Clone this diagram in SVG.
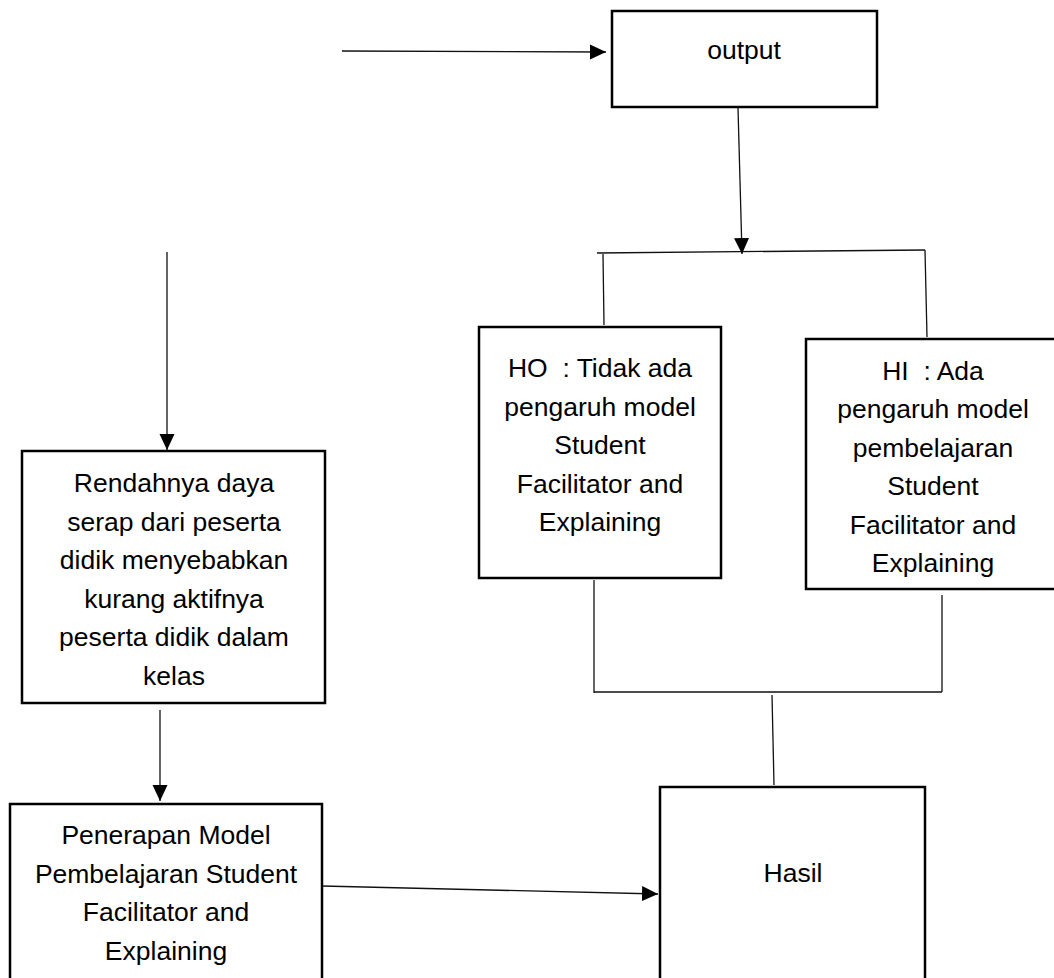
<svg xmlns="http://www.w3.org/2000/svg" width="1054" height="978" viewBox="0 0 1054 978">
<style>
.box{fill:#fff;stroke:#000;stroke-width:2.5}
.t{font-family:"Liberation Sans",Arial,sans-serif;font-size:26.5px;fill:#000;text-anchor:middle;white-space:pre}
.c{fill:none;stroke:#111;stroke-width:1.3}
</style>
<defs>
<marker id="ah" markerUnits="userSpaceOnUse" markerWidth="17" markerHeight="16" refX="16" refY="7.5" orient="auto">
<path d="M0,0 L16,7.5 L0,15 Z" fill="#000"/>
</marker>
</defs>
<rect width="1054" height="978" fill="#fff"/>
<g id="connectors">
<line class="c" x1="342" y1="51" x2="606" y2="52" marker-end="url(#ah)"/>
<line class="c" x1="738" y1="108" x2="742" y2="254" marker-end="url(#ah)"/>
<line class="c" x1="597" y1="253" x2="925" y2="250"/>
<line class="c" x1="603" y1="254" x2="604" y2="325"/>
<line class="c" x1="925" y1="250" x2="927" y2="337"/>
<line class="c" x1="167" y1="252" x2="167" y2="450" marker-end="url(#ah)"/>
<line class="c" x1="160" y1="710" x2="160" y2="801" marker-end="url(#ah)"/>
<line class="c" x1="322" y1="886" x2="658" y2="894" marker-end="url(#ah)"/>
<line class="c" x1="594" y1="580" x2="594" y2="693"/>
<line class="c" x1="594" y1="692" x2="942" y2="692"/>
<line class="c" x1="942" y1="595" x2="942" y2="692"/>
<line class="c" x1="772" y1="695" x2="774" y2="785"/>
</g>
<g id="node-output">
<rect class="box" x="612" y="11" width="265" height="96"/>
<text class="t" x="744" y="59">output</text>
</g>
<g id="node-ho">
<rect class="box" x="479" y="327" width="242" height="251"/>
<text class="t" x="600" y="377">HO  : Tidak ada</text>
<text class="t" x="600" y="415.5">pengaruh model</text>
<text class="t" x="600" y="454">Student</text>
<text class="t" x="600" y="492.5">Facilitator and</text>
<text class="t" x="600" y="531">Explaining</text>
</g>
<g id="node-hi">
<rect class="box" x="806" y="339" width="256" height="250"/>
<text class="t" x="933" y="379.5">HI  : Ada</text>
<text class="t" x="933" y="418">pengaruh model</text>
<text class="t" x="933" y="456.5">pembelajaran</text>
<text class="t" x="933" y="495">Student</text>
<text class="t" x="933" y="533.5">Facilitator and</text>
<text class="t" x="933" y="572">Explaining</text>
</g>
<g id="node-rendahnya">
<rect class="box" x="22" y="451" width="303" height="252"/>
<text class="t" x="174" y="492">Rendahnya daya</text>
<text class="t" x="174" y="530.5">serap dari peserta</text>
<text class="t" x="174" y="569">didik menyebabkan</text>
<text class="t" x="174" y="607.5">kurang aktifnya</text>
<text class="t" x="174" y="646">peserta didik dalam</text>
<text class="t" x="174" y="684.5">kelas</text>
</g>
<g id="node-penerapan">
<rect class="box" x="10" y="804" width="312" height="200"/>
<text class="t" x="166" y="844">Penerapan Model</text>
<text class="t" x="166" y="882.5">Pembelajaran Student</text>
<text class="t" x="166" y="921">Facilitator and</text>
<text class="t" x="166" y="959.5">Explaining</text>
</g>
<g id="node-hasil">
<rect class="box" x="660" y="787" width="265" height="220"/>
<text class="t" x="793" y="882">Hasil</text>
</g>
</svg>
